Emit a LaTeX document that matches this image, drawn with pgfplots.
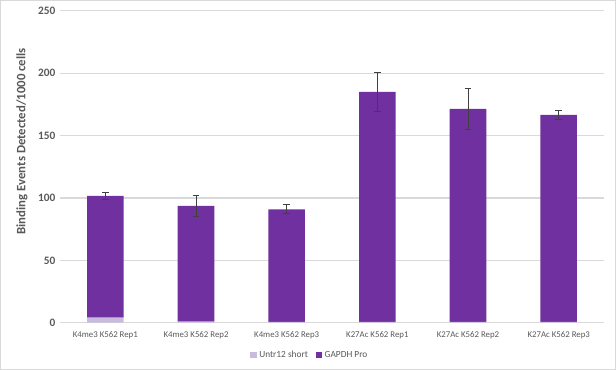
\documentclass[border=0pt]{standalone}
\usepackage{fontspec}
\setmainfont{Carlito}
\usepackage{pgfplots}
\pgfplotsset{compat=1.18}
\definecolor{gapdh}{HTML}{7030A0}
\definecolor{untr}{HTML}{C8BCDE}
\definecolor{txt}{HTML}{595959}
\definecolor{grid}{HTML}{D9D9D9}
\begin{document}
\begin{tikzpicture}
\draw[grid, line width=0.6pt] (0.3pt,-0.3pt) rectangle (461.7pt,-277.2pt);
\begin{axis}[
  at={(45pt,-242pt)}, anchor=south west,
  scale only axis, width=408pt, height=233.8pt,
  ybar stacked, bar width=27.4pt,
  ymin=0, ymax=250, ytick={0,50,...,250},
  xmin=-0.5, xmax=5.5, xtick=data,
  xticklabels={K4me3 K562 Rep1, K4me3 K562 Rep2, K4me3 K562 Rep3, K27Ac K562 Rep1, K27Ac K562 Rep2, K27Ac K562 Rep3},
  axis x line*=bottom, axis y line*=left,
  x axis line style={grid, line width=0.8pt}, y axis line style={draw=none},
  xtick style={draw=none}, ytick style={draw=none},
  xmajorgrids=false, xminorgrids=false,
  ymajorgrids, y grid style={grid, line width=0.8pt},
  major tick length=0pt,
  /pgf/number format/assume math mode=true,
  yticklabel style={font=\fontsize{8.5}{10}\selectfont\bfseries, text=txt},
  xticklabel style={font=\fontsize{6.6}{8}\selectfont, text=txt, yshift=-3pt},
  legend style={at={(0.46,-0.104)}, anchor=center, draw=none, legend columns=2, font=\fontsize{7}{8}\selectfont, text=txt, /tikz/every even column/.append style={column sep=4pt}},
  area legend,
  legend image code/.code={\fill[#1] (0pt,-2.3pt) rectangle (4.6pt,2.3pt);},
]
\addplot[fill=untr, draw=none] coordinates {(0,4) (1,0.8) (2,0.6) (3,0.6) (4,0.6) (5,0.6)};
\addplot[fill=gapdh, draw=none,
  error bars/.cd, y dir=both, y explicit,
  error bar style={color=black!75, line width=0.7pt},
  error mark options={rotate=90, mark size=2.5pt, color=black!75, line width=0.7pt}] coordinates {
 (0,97.6) +- (0,3)
 (1,92.8) +- (0,8.5)
 (2,90.2) +- (0,3.6)
 (3,184.4) +- (0,15.7)
 (4,170.8) +- (0,16.6)
 (5,166.0) +- (0,3.8)};
\legend{Untr12 short, GAPDH Pro}
\end{axis}
\node[rotate=90, font=\fontsize{9.6}{11}\selectfont\bfseries, text=txt] at (16.5pt,-106pt) {Binding Events Detected/1000 cells};
\end{tikzpicture}
\end{document}
